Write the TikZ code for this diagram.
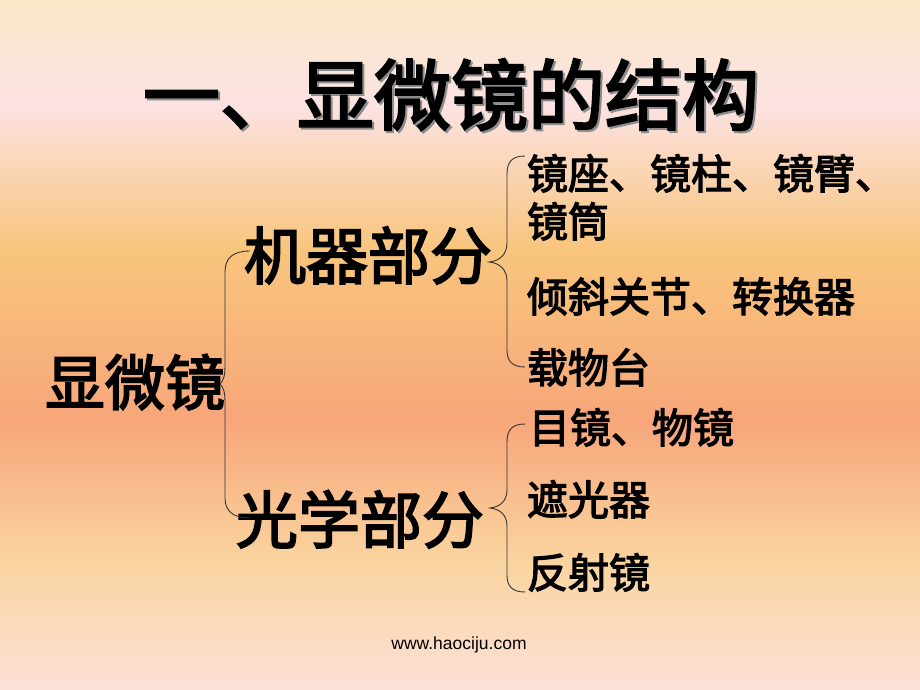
\documentclass[tikz,border=0pt]{standalone}
\usepackage{fontspec}
\newfontfamily\cjk{Noto Sans CJK SC}[FakeBold=3]
\newfontfamily\webfont{Liberation Sans}
\definecolor{bgA}{HTML}{F9E9C8}
\definecolor{bgB}{HTML}{FCE2E2}
\definecolor{bgC}{HTML}{F8C57C}
\definecolor{bgD}{HTML}{F7A67A}
\definecolor{bgE}{HTML}{FAD49F}
\definecolor{bgF}{HTML}{FCE0D8}
\definecolor{bracecol}{HTML}{333333}
\begin{document}
\begin{tikzpicture}[x=1pt,y=-1pt,
  txt/.style={anchor=base west,inner sep=0pt,outer sep=0pt,text=black},
  big/.style={txt,font=\cjk\fontsize{62}{62}\selectfont},
  small/.style={txt,font=\cjk\fontsize{41}{41}\selectfont},
  bracel/.style={draw=bracecol,line width=0.9pt}]
\useasboundingbox (0,0) rectangle (920,690);
% background gradient bands
\shade[top color=bgA,bottom color=bgB] (0,0) rectangle (920,106);
\shade[top color=bgB,bottom color=bgC] (0,105) rectangle (920,251);
\shade[top color=bgC,bottom color=bgD] (0,250) rectangle (920,421);
\shade[top color=bgD,bottom color=bgE] (0,420) rectangle (920,561);
\shade[top color=bgE,bottom color=bgF] (0,560) rectangle (920,690);
% title with shadow
\node[txt,text=black!45,font=\cjk\fontsize{77}{77}\selectfont] (titleshadow) at (145,126) {一、显微镜的结构};
\node[txt,font=\cjk\fontsize{77}{77}\selectfont] (title) at (143,124) {一、显微镜的结构};
% main nodes
\node[big,font=\cjk\fontsize{60}{60}\selectfont] (root) at (45,405) {显微镜};
\node[big] (mech) at (244,279) {机器部分};
\node[big] (opt) at (236,543) {光学部分};
\node[small] (m1) at (527,189) {镜座、镜柱、镜臂、};
\node[small] (m1b) at (527,237) {镜筒};
\node[small] (m2) at (527,312) {倾斜关节、转换器};
\node[small] (m3) at (527,383) {载物台};
\node[small] (o1) at (529,443) {目镜、物镜};
\node[small] (o2) at (527,515) {遮光器};
\node[small] (o3) at (527,588) {反射镜};
% braces
\coordinate (b1t) at (250,251);
\coordinate (b1m) at (220,384);
\coordinate (b1b) at (250,518);
\draw[bracel] (b1t) .. controls (233,251) and (225,258) .. (225,272) -- (225,366)
  .. controls (225,377) and (223,381) .. (b1m)
  .. controls (223,387) and (225,391) .. (225,402) -- (225,498)
  .. controls (225,511) and (233,518) .. (b1b);
\coordinate (b2t) at (525,156);
\coordinate (b2m) at (489,262);
\coordinate (b2b) at (525,367);
\draw[bracel] (b2t) .. controls (512,156) and (507,162) .. (507,174) -- (507,243)
  .. controls (507,254) and (500,261) .. (b2m)
  .. controls (500,263) and (507,270) .. (507,281) -- (507,350)
  .. controls (507,361) and (512,367) .. (b2b);
\coordinate (b3t) at (525,424);
\coordinate (b3m) at (490,508);
\coordinate (b3b) at (525,592);
\draw[bracel] (b3t) .. controls (512,424) and (507,430) .. (507,442) -- (507,490)
  .. controls (507,501) and (500,507) .. (b3m)
  .. controls (500,509) and (507,515) .. (507,526) -- (507,575)
  .. controls (507,586) and (512,592) .. (b3b);
% footer
\node[inner sep=0pt,font=\webfont\fontsize{17.5}{17.5}\selectfont] (footer) at (459,645) {www.haociju.com};
\end{tikzpicture}
\end{document}
